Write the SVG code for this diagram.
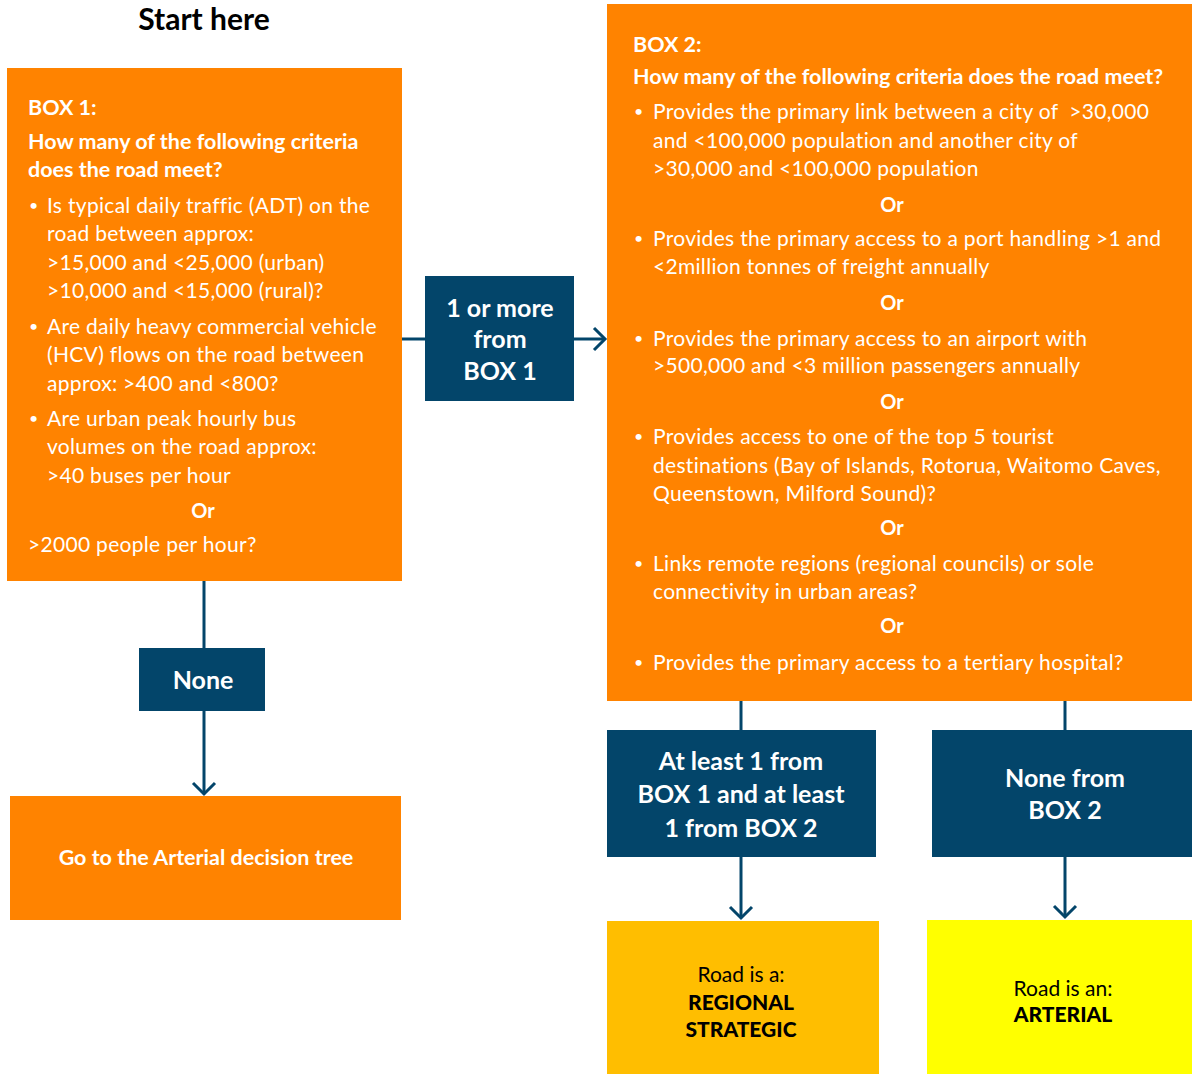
<svg xmlns="http://www.w3.org/2000/svg" width="1192" height="1074" viewBox="0 0 1192 1074">
  <style>
    .orange { fill: #FF8300; }
    .navy { fill: #03456A; }
    .amber { fill: #FFBE00; }
    .yellow { fill: #FFFF00; }
    .body { font-family: Lato, "Open Sans", sans-serif; font-size: 21px; letter-spacing: 0.3px; fill: #FFFFFF; }
    .dot { font-family: Lato, "Open Sans", sans-serif; font-size: 16px; fill: #FFFFFF; }
    .head { font-family: Lato, "Open Sans", sans-serif; font-size: 21.5px; font-weight: bold; fill: #FFFFFF; }
    .or { font-family: Lato, "Open Sans", sans-serif; font-size: 20px; font-weight: bold; fill: #FFFFFF; text-anchor: middle; }
    .label { font-family: Lato, "Open Sans", sans-serif; font-size: 25px; font-weight: bold; fill: #FFFFFF; text-anchor: middle; }
    .dark { font-family: Lato, "Open Sans", sans-serif; font-size: 21px; fill: #000000; text-anchor: middle; }
    .darkb { font-family: Lato, "Open Sans", sans-serif; font-size: 21px; font-weight: 900; fill: #000000; text-anchor: middle; }
    .title { font-family: Lato, "Open Sans", sans-serif; font-size: 30px; font-weight: bold; fill: #000000; text-anchor: middle; }
    .edge { stroke: #03456A; stroke-width: 3; fill: none; }
  </style>
  <defs>
    <marker id="chev" markerUnits="userSpaceOnUse" markerWidth="16" markerHeight="26" refX="13" refY="13" orient="auto" overflow="visible">
      <path d="M2,2 L13,13 L2,24" fill="none" stroke="#03456A" stroke-width="3"/>
    </marker>
  </defs>

  <text class="title" x="204" y="30">Start here</text>

  <!-- connectors -->
  <g id="connectors">
    <path class="edge" d="M402,339 H425"/>
    <path class="edge" d="M574,339 H605" marker-end="url(#chev)"/>
    <path class="edge" d="M204,581 V648"/>
    <path class="edge" d="M204,711 V794" marker-end="url(#chev)"/>
    <path class="edge" d="M741,701 V730"/>
    <path class="edge" d="M741,857 V918" marker-end="url(#chev)"/>
    <path class="edge" d="M1065,701 V730"/>
    <path class="edge" d="M1065,857 V917" marker-end="url(#chev)"/>
  </g>

  <!-- Box 1 criteria -->
  <g id="box1">
    <rect class="orange" x="7" y="68" width="395" height="513"/>
    <text class="head" x="28" y="115">BOX 1:</text>
    <text class="head" x="28" y="149">How many of the following criteria</text>
    <text class="head" x="28" y="177">does the road meet?</text>
    <text class="dot" x="29" y="211">•</text>
    <text class="body" x="47" y="213">Is typical daily traffic (ADT) on the</text>
    <text class="body" x="47" y="241">road between approx:</text>
    <text class="body" x="47" y="270">&gt;15,000 and &lt;25,000 (urban)</text>
    <text class="body" x="47" y="298">&gt;10,000 and &lt;15,000 (rural)?</text>
    <text class="dot" x="29" y="332">•</text>
    <text class="body" x="47" y="334">Are daily heavy commercial vehicle</text>
    <text class="body" x="47" y="362">(HCV) flows on the road between</text>
    <text class="body" x="47" y="391">approx: &gt;400 and &lt;800?</text>
    <text class="dot" x="29" y="424">•</text>
    <text class="body" x="47" y="426">Are urban peak hourly bus</text>
    <text class="body" x="47" y="454">volumes on the road approx:</text>
    <text class="body" x="47" y="483">&gt;40 buses per hour</text>
    <text class="or" x="203" y="518">Or</text>
    <text class="body" x="28" y="552">&gt;2000 people per hour?</text>
  </g>

  <!-- decision: 1 or more from box 1 -->
  <g id="one-or-more">
    <rect class="navy" x="425" y="276" width="149" height="125"/>
    <text class="label" x="500" y="317">1 or more</text>
    <text class="label" x="500" y="348">from</text>
    <text class="label" x="500" y="380">BOX 1</text>
  </g>

  <!-- decision: none from box 1 -->
  <g id="none">
    <rect class="navy" x="139" y="648" width="126" height="63"/>
    <text class="label" x="203" y="689">None</text>
  </g>

  <!-- outcome: arterial decision tree -->
  <g id="goto-arterial">
    <rect class="orange" x="10" y="796" width="391" height="124"/>
    <text class="head" x="206" y="865" text-anchor="middle">Go to the Arterial decision tree</text>
  </g>

  <!-- Box 2 criteria -->
  <g id="box2">
    <rect class="orange" x="607" y="4" width="585" height="697"/>
    <text class="head" x="633" y="52">BOX 2:</text>
    <text class="head" x="633" y="84">How many of the following criteria does the road meet?</text>
    <text class="dot" x="634" y="117">•</text>
    <text class="body" x="653" y="119">Provides the primary link between a city of&#160; &gt;30,000</text>
    <text class="body" x="653" y="148">and &lt;100,000 population and another city of</text>
    <text class="body" x="653" y="176">&gt;30,000 and &lt;100,000 population</text>
    <text class="or" x="892" y="212">Or</text>
    <text class="dot" x="634" y="244">•</text>
    <text class="body" x="653" y="246">Provides the primary access to a port handling &gt;1 and</text>
    <text class="body" x="653" y="274">&lt;2million tonnes of freight annually</text>
    <text class="or" x="892" y="310">Or</text>
    <text class="dot" x="634" y="344">•</text>
    <text class="body" x="653" y="346">Provides the primary access to an airport with</text>
    <text class="body" x="653" y="373">&gt;500,000 and &lt;3 million passengers annually</text>
    <text class="or" x="892" y="409">Or</text>
    <text class="dot" x="634" y="442">•</text>
    <text class="body" x="653" y="444">Provides access to one of the top 5 tourist</text>
    <text class="body" x="653" y="473">destinations (Bay of Islands, Rotorua, Waitomo Caves,</text>
    <text class="body" x="653" y="501">Queenstown, Milford Sound)?</text>
    <text class="or" x="892" y="535">Or</text>
    <text class="dot" x="634" y="569">•</text>
    <text class="body" x="653" y="571">Links remote regions (regional councils) or sole</text>
    <text class="body" x="653" y="599">connectivity in urban areas?</text>
    <text class="or" x="892" y="633">Or</text>
    <text class="dot" x="634" y="668">•</text>
    <text class="body" x="653" y="670">Provides the primary access to a tertiary hospital?</text>
  </g>

  <!-- decision: at least one from each box -->
  <g id="at-least">
    <rect class="navy" x="607" y="730" width="269" height="127"/>
    <text class="label" x="741" y="770">At least 1 from</text>
    <text class="label" x="741" y="803">BOX 1 and at least</text>
    <text class="label" x="741" y="837">1 from BOX 2</text>
  </g>

  <!-- decision: none from box 2 -->
  <g id="none-box2">
    <rect class="navy" x="932" y="730" width="260" height="127"/>
    <text class="label" x="1065" y="787">None from</text>
    <text class="label" x="1065" y="819">BOX 2</text>
  </g>

  <!-- outcome: regional strategic -->
  <g id="regional-strategic">
    <rect class="amber" x="607" y="921" width="272" height="153"/>
    <text class="dark" x="741" y="982">Road is a:</text>
    <text class="darkb" x="741" y="1010">REGIONAL</text>
    <text class="darkb" x="741" y="1037">STRATEGIC</text>
  </g>

  <!-- outcome: arterial -->
  <g id="arterial">
    <rect class="yellow" x="927" y="920" width="265" height="154"/>
    <text class="dark" x="1063" y="996">Road is an:</text>
    <text class="darkb" x="1063" y="1022">ARTERIAL</text>
  </g>
</svg>
